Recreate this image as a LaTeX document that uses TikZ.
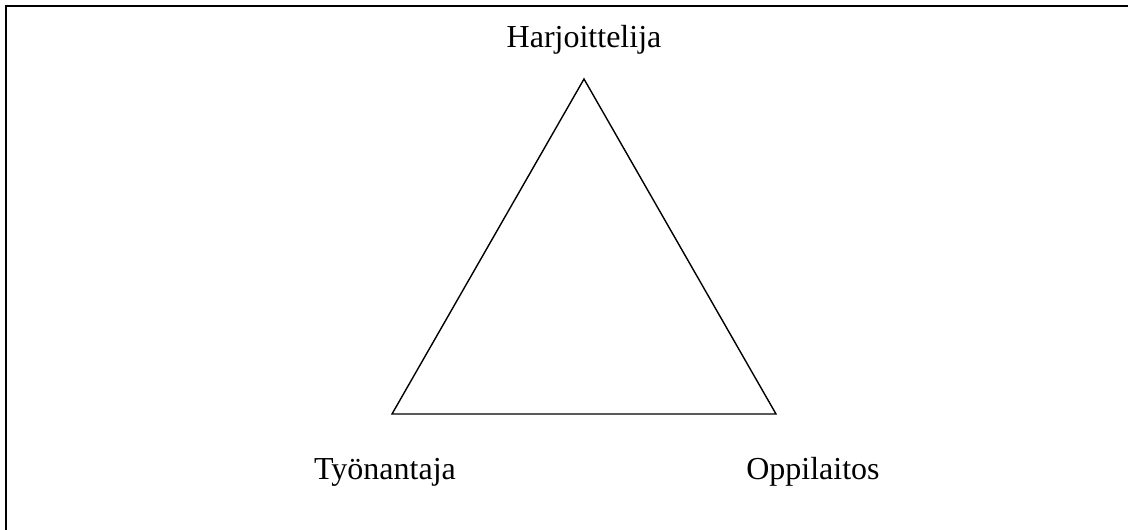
\documentclass[tikz,border=0pt]{standalone}
\usepackage{fontspec}
\setmainfont{Liberation Serif}
\usepackage{xcolor}

\begin{document}
\begin{tikzpicture}[x=1pt,y=-1pt,
        corner/.style={font=\fontsize{32}{38}\selectfont, anchor=base, inner sep=0pt}]
        \useasboundingbox (0,0) rectangle (1128,530);
        % frame
        \draw[line width=2pt] (1128,6) -- (6,6) -- (6,530);
        % triangle
        \coordinate (top) at (584,79);
        \coordinate (left) at (392,414);
        \coordinate (right) at (776,414);
        \draw[line width=1.4pt, line join=miter] (top) -- (left) -- (right) -- cycle;
        \node[corner] (harj) at (584,47) {Harjoittelija};
        \node[corner] (tyon) at (385,479) {Työnantaja};
        \node[corner] (oppi) at (813,479) {Oppilaitos};
    \end{tikzpicture}
\end{document}
